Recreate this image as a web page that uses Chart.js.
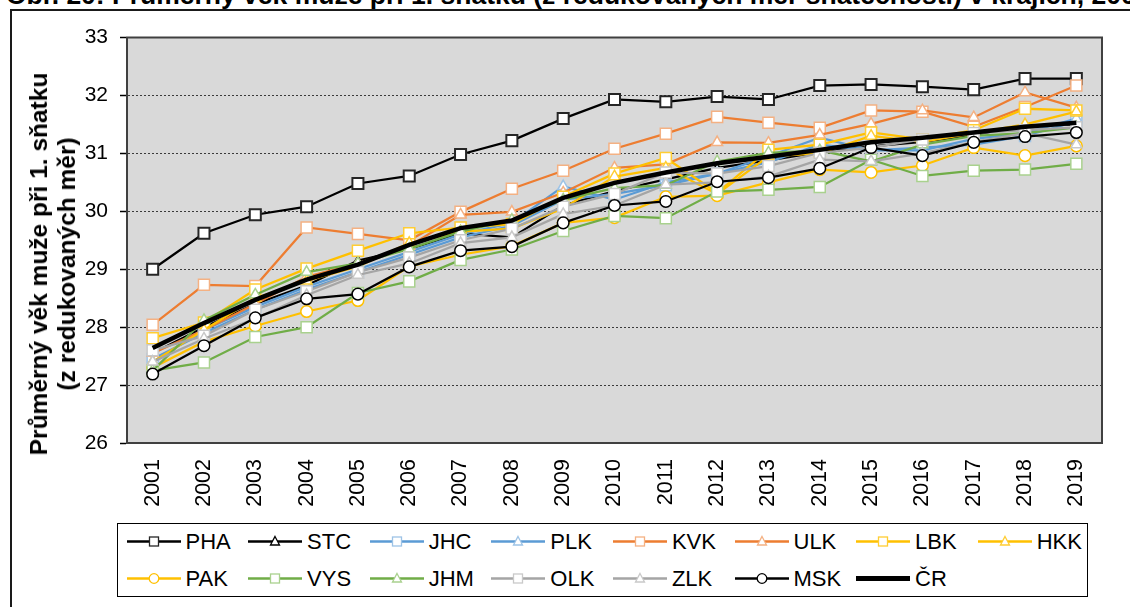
<!DOCTYPE html>
<html lang="cs">
<head>
<meta charset="utf-8">
<script src="https://cdn.jsdelivr.net/npm/chart.js@4.4.1/dist/chart.umd.min.js"></script>
<style>
  html, body { margin: 0; padding: 0; background: #fff; }
  body { width: 1130px; height: 607px; position: relative; overflow: hidden; font-family: "Liberation Sans", Arial, sans-serif; color: #000; }
  #title { position: absolute; left: 6px; top: -18px; font-weight: bold; font-size: 26.5px; line-height: 26px; white-space: nowrap; }
  #frame { position: absolute; left: 10px; top: 9px; width: 1200px; height: 700px; border: 2px solid #1a1a1a; box-sizing: border-box; }
  #wrap { position: absolute; left: 0; top: 0; width: 1130px; height: 607px; }
  #ytitle { position: absolute; left: 53px; top: 264px; transform: translate(-50%, -50%) rotate(-90deg);
            font-weight: bold; font-size: 24.5px; line-height: 28px; text-align: center; white-space: nowrap; }
  #legend { position: absolute; left: 117px; top: 523px; width: 971px; height: 74px; border: 1.5px solid #000; box-sizing: border-box; background: #fff; }
  .li { position: absolute; height: 26px; display: flex; align-items: center; font-size: 22px; white-space: nowrap; }
  .li svg { margin-right: 5px; }
</style>
</head>
<body>
<div id="title">Obr. 20: Průměrný věk muže při 1. sňatku (z redukovaných měr sňatečnosti) v krajích, 2001–2019</div>
<div id="frame"></div>
<div id="wrap"><canvas id="c" width="1130" height="607"></canvas></div>
<div id="ytitle">Průměrný věk muže při 1. sňatku<br>(z redukovaných měr)</div>
<div id="legend"></div>
<script>
// roky a osa y
const years = ['2001','2002','2003','2004','2005','2006','2007','2008','2009','2010',
               '2011','2012','2013','2014','2015','2016','2017','2018','2019'];
const yTicks = [26, 27, 28, 29, 30, 31, 32, 33];

// hodnoty podle krajů
const PHA = [29.00,29.62,29.94,30.08,30.48,30.61,30.98,31.22,31.60,31.93,31.89,31.98,31.93,32.17,32.19,32.15,32.10,32.29,32.29];
const STC = [27.55,28.00,28.40,28.72,29.15,29.35,29.62,29.55,30.10,30.35,30.55,30.75,30.88,31.02,31.12,31.20,31.32,31.48,31.50];
const JHC = [27.45,27.90,28.30,28.65,28.95,29.25,29.55,29.75,30.20,30.30,30.45,30.65,30.85,31.15,31.05,31.10,31.15,31.30,31.55];
const PLK = [27.40,27.95,28.35,28.70,29.00,29.30,29.60,29.80,30.43,30.20,30.50,30.65,30.95,31.27,31.05,31.05,31.25,31.35,31.60];
const KVK = [28.04,28.73,28.71,29.72,29.61,29.50,29.99,30.39,30.70,31.08,31.34,31.63,31.53,31.44,31.74,31.72,31.46,31.80,32.17];
const ULK = [27.55,27.95,28.40,28.87,29.10,29.40,29.94,29.99,30.32,30.75,30.81,31.19,31.18,31.32,31.51,31.74,31.62,32.05,31.79];
const LBK = [27.81,28.08,28.65,29.01,29.32,29.62,29.72,29.78,30.25,30.65,30.92,30.32,31.06,31.15,31.36,31.24,31.40,31.77,31.74];
const HKK = [27.40,27.95,28.50,28.80,29.05,29.45,29.65,29.70,30.05,30.60,30.75,30.30,30.95,31.00,31.30,31.20,31.35,31.50,31.72];
const PAK = [27.30,27.75,28.02,28.27,28.46,29.05,29.25,29.40,29.80,29.89,30.25,30.27,30.50,30.72,30.67,30.79,31.10,30.96,31.13];
const VYS = [27.25,27.39,27.83,28.00,28.59,28.79,29.16,29.34,29.66,29.92,29.88,30.34,30.37,30.42,30.89,30.61,30.70,30.72,30.82];
const JHM = [27.25,28.12,28.56,28.95,29.10,29.35,29.65,29.85,30.20,30.40,30.45,30.86,31.01,31.05,30.86,31.15,31.30,31.35,31.45];
const OLK = [27.60,27.85,28.30,28.62,28.95,29.20,29.50,29.70,30.08,30.30,30.67,30.65,30.78,31.01,31.10,31.24,31.35,31.40,31.45];
const ZLK = [27.40,27.80,28.15,28.55,28.90,29.10,29.45,29.55,29.95,30.10,30.46,30.50,30.60,30.89,30.86,31.00,31.20,31.35,31.15];
const MSK = [27.19,27.68,28.16,28.49,28.57,29.04,29.32,29.39,29.80,30.10,30.17,30.51,30.58,30.74,31.10,30.96,31.19,31.29,31.36];
const CR  = [27.64,28.07,28.47,28.82,29.08,29.42,29.71,29.84,30.23,30.49,30.67,30.83,30.94,31.06,31.19,31.27,31.36,31.46,31.53];

const FONT = '"Liberation Sans", Arial, sans-serif';
const BLACK = '#000000', BLUE = '#5B9BD5', ORANGE = '#ED7D31', GOLD = '#FFC000', GREEN = '#70AD47', GRAY = '#A5A5A5';

// název, data, barva čáry, okraj značky, tvar (none = bez značky)
const series = [
  ['PHA', PHA, BLACK,  '#262626', 'rect'],
  ['STC', STC, BLACK,  '#000000', 'triangle'],
  ['JHC', JHC, BLUE,   '#9DC3E6', 'rect'],
  ['PLK', PLK, BLUE,   '#9DC3E6', 'triangle'],
  ['KVK', KVK, ORANGE, '#F4B183', 'rect'],
  ['ULK', ULK, ORANGE, '#F4B183', 'triangle'],
  ['LBK', LBK, GOLD,   '#FFCD33', 'rect'],
  ['HKK', HKK, GOLD,   '#FFCD33', 'triangle'],
  ['PAK', PAK, GOLD,   '#FFC000', 'circle'],
  ['VYS', VYS, GREEN,  '#A9D18E', 'rect'],
  ['JHM', JHM, GREEN,  '#A9D18E', 'triangle'],
  ['OLK', OLK, GRAY,   '#C9C9C9', 'rect'],
  ['ZLK', ZLK, GRAY,   '#C9C9C9', 'triangle'],
  ['MSK', MSK, BLACK,  '#000000', 'circle'],
  ['ČR',  CR,  BLACK,  '#000000', 'none']
];

const radius = { rect: 7.8, triangle: 6.3, circle: 5.8, none: 0 };

const datasets = series.map(function (s, i) {
  const cr = s[4] === 'none';
  return {
    label: s[0], data: s[1],
    borderColor: s[2], borderWidth: cr ? 4.5 : 2.25,
    pointStyle: cr ? 'circle' : s[4],
    pointRadius: s[0] === 'STC' ? 4.5 : radius[s[4]],
    pointBackgroundColor: '#ffffff',
    pointBorderColor: s[3], pointBorderWidth: s[0] === 'PHA' ? 2 : 1.5,
    tension: 0, fill: false,
    order: series.length - i          // pozdější řady navrchu jako v Excelu
  };
});

// šedé pozadí plochy grafu + rámeček
const plotArea = {
  id: 'plotArea',
  beforeDraw(chart) {
    const a = chart.chartArea, c = chart.ctx;
    c.save(); c.fillStyle = '#D9D9D9';
    c.fillRect(a.left, a.top, a.right - a.left, a.bottom - a.top);
    c.restore();
  },
  beforeDatasetsDraw(chart) {
    const a = chart.chartArea, c = chart.ctx;
    c.save(); c.strokeStyle = '#404040'; c.lineWidth = 2;
    c.strokeRect(a.left, a.top, a.right - a.left, a.bottom - a.top);
    c.restore();
  }
};

new Chart(document.getElementById('c'), {
  type: 'line',
  data: { labels: years, datasets: datasets },
  options: {
    responsive: false, animation: false, devicePixelRatio: 1,
    layout: { padding: { top: 37.5, right: 28, left: 0, bottom: 0 } },
    plugins: { legend: { display: false }, tooltip: { enabled: false } },
    scales: {
      x: {
        offset: true,
        grid: { display: false, drawTicks: false },
        border: { color: '#000', width: 2 },
        ticks: { autoSkip: false, minRotation: 90, maxRotation: 90, padding: 16, color: '#000',
                 font: { family: FONT, size: 21.5 } },
        afterFit(s) { s.height = 164; }
      },
      y: {
        min: yTicks[0], max: yTicks[yTicks.length - 1],
        afterBuildTicks(s) { s.ticks = yTicks.map(function (v) { return { value: v }; }); },
        grid: { color: '#3a3a3a', lineWidth: 1, tickLength: 7, tickColor: '#000', tickWidth: 1.5 },
        border: { color: '#000', width: 2, dash: [2, 2] },
        ticks: { padding: 12, color: '#000', font: { family: FONT, size: 21 } },
        afterFit(s) { s.width = 127; }
      }
    }
  },
  plugins: [plotArea]
});

// legenda v rámečku (HTML)
function icon(s) {
  const col = s[2], edge = s[3];
  let m = '';
  if (s[4] === 'rect') m = '<rect x="22.5" y="3" width="9" height="9" fill="#fff" stroke="' + edge + '" stroke-width="1.3"/>';
  if (s[4] === 'triangle') m = '<polygon points="27,2.5 31.5,11 22.5,11" fill="#fff" stroke="' + edge + '" stroke-width="1.3"/>';
  if (s[4] === 'circle') m = '<circle cx="27" cy="7.5" r="4.8" fill="#fff" stroke="' + edge + '" stroke-width="1.3"/>';
  const w = s[4] === 'none' ? 5 : 2.5;
  return '<svg width="54" height="15" viewBox="0 0 54 15"><line x1="0" y1="7.5" x2="54" y2="7.5" stroke="' + col +
         '" stroke-width="' + w + '"/>' + m + '</svg>';
}
const legend = document.getElementById('legend');
legend.innerHTML = series.map(function (s, i) {
  const row = i < 8 ? 0 : 1, col = i < 8 ? i : i - 8;
  const left = 8.5 + col * 121.6, top = (row === 0 ? 19 : 56) - 14.5;
  return '<div class="li" style="left:' + left + 'px;top:' + top + 'px">' + icon(s) + s[0] + '</div>';
}).join('');
</script>
</body>
</html>
